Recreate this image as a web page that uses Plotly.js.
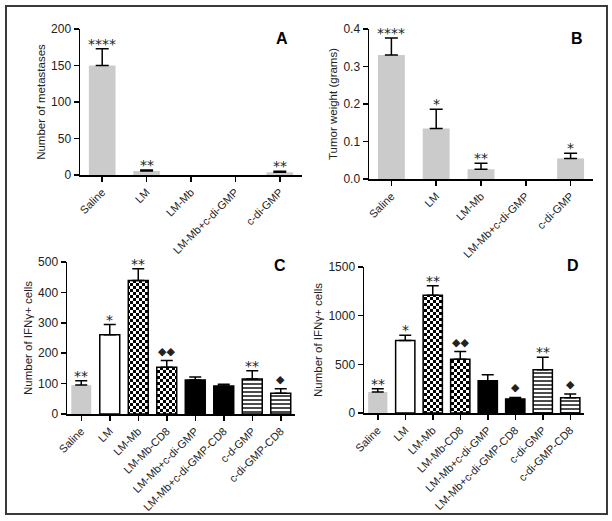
<!DOCTYPE html>
<html>
<head>
<meta charset="utf-8">
<script src="https://cdn.plot.ly/plotly-3.0.1.min.js"></script>
<style>html,body{margin:0;padding:0;background:#fff;}#chart{width:612px;height:521px;}</style>
</head>
<body>
<div id="chart"></div>
<script>
// ---------- data ----------
const catsA = ["Saline", "LM", "LM-Mb", "LM-Mb+c-di-GMP", "c-di-GMP"];
const metastases = [150, 5.5, 0, 0, 3.7];
const metastasesErr = [23, 1.5, 0, 0, 1.3];
const starsA = ["****", "**", "", "", "**"];

const catsB = ["Saline", "LM", "LM-Mb", "LM-Mb+c-di-GMP", "c-di-GMP"];
const tumorWeight = [0.331, 0.135, 0.026, 0, 0.055];
const tumorWeightErr = [0.045, 0.051, 0.016, 0, 0.014];
const starsB = ["****", "*", "**", "", "*"];

const catsC = ["Saline", "LM", "LM-Mb", "LM-Mb-CD8", "LM-Mb+c-di-GMP", "LM-Mb+c-di-GMP-CD8", "c-d-GMP", "c-di-GMP-CD8"];
const ifnC = [95, 261, 439, 154, 112, 92, 115, 68];
const ifnCErr = [14, 33, 39, 22, 10, 6, 27, 15];
const marksC = ["**", "*", "**", "◆◆", "", "", "**", "◆"];

const catsD = ["Saline", "LM", "LM-Mb", "LM-Mb-CD8", "LM-Mb+c-di-GMP", "LM-Mb+c-di-GMP-CD8", "c-di-GMP", "c-di-GMP-CD8"];
const ifnD = [215, 744, 1211, 553, 331, 143, 444, 157];
const ifnDErr = [34, 54, 96, 78, 61, 17, 129, 38];
const marksD = ["**", "*", "**", "◆◆", "", "◆", "**", "◆"];

// ---------- styles ----------
const FONT = "Liberation Sans, Arial, sans-serif";
const GRAY = "#cbcbcb";
const styleAB = ["gray", "gray", "gray", "gray", "gray"];
const styleCD = ["gray", "white", "checker", "checker", "black", "black", "stripes", "stripes"];

function markerFor(style) {
  const line = {color: "#000", width: style === "gray" ? 0 : 1.5};
  if (style === "gray") return {color: GRAY, line};
  if (style === "white") return {color: "#fff", line};
  if (style === "black") return {color: "#000", line};
  if (style === "checker") return {color: "#fff", line,
    pattern: {path: "M0,0H3V3H0ZM3,3H6V6H3Z", size: 6, fgcolor: "#000", bgcolor: "#fff", fillmode: "replace", solidity: 1}};
  if (style === "stripes") return {color: "#fff", line,
    pattern: {shape: "-", size: 4, solidity: 0.35, fgcolor: "#000", bgcolor: "#fff", fillmode: "replace"}};
}

function panelTraces(cats, vals, errs, styles, xa, ya, capW, barW) {
  const groups = {};
  styles.forEach((s, i) => { (groups[s] = groups[s] || []).push(i); });
  return Object.keys(groups).map(s => {
    const idx = groups[s];
    return {
      type: "bar",
      x: idx.map(i => cats[i]),
      y: idx.map(i => vals[i]),
      width: barW,
      xaxis: xa, yaxis: ya,
      marker: markerFor(s),
      error_y: {type: "data", symmetric: false,
        array: idx.map(i => (vals[i] > 0 ? errs[i] : NaN)),
        arrayminus: idx.map(i => (vals[i] > 0 ? 0 : NaN)),
        color: "#000", thickness: 1.5, width: capW},
      hoverinfo: "skip"
    };
  });
}

const traces = [].concat(
  panelTraces(catsA, metastases, metastasesErr, styleAB, "x", "y", 6.5, 0.6),
  panelTraces(catsB, tumorWeight, tumorWeightErr, styleAB, "x2", "y2", 6.5, 0.6),
  panelTraces(catsC, ifnC, ifnCErr, styleCD, "x3", "y3", 6, 0.7),
  panelTraces(catsD, ifnD, ifnDErr, styleCD, "x4", "y4", 6, 0.7)
);

function xAxis(domain, anchor, n) {
  return {domain, anchor, type: "category", range: [-0.5, n - 0.5],
    showline: true, linecolor: "#000", linewidth: 1.5, ticks: "outside", ticklen: 5, tickwidth: 1.5,
    tickcolor: "#000", tickangle: -45, tickfont: {family: FONT, size: 11, color: "#222"},
    showgrid: false, zeroline: false, fixedrange: true};
}
function yAxis(domain, anchor, range, dtick, title, fmt) {
  return {domain, anchor, range, dtick, tickformat: fmt || "",
    showline: true, linecolor: "#000", linewidth: 1.5, ticks: "outside", ticklen: 5, tickwidth: 1.5,
    tickcolor: "#000", tickfont: {family: FONT, size: 12, color: "#222"},
    showgrid: false, zeroline: false, fixedrange: true,
    title: {text: title, font: {family: FONT, size: 11.5, color: "#222"}, standoff: 3}};
}

const annotations = [];
function addMarks(cats, vals, errs, marks, xa, ya) {
  marks.forEach((m, i) => {
    if (!m) return;
    const dia = m.indexOf("◆") >= 0;
    annotations.push({x: cats[i], y: vals[i] + errs[i], xref: xa, yref: ya, text: m, showarrow: false,
      xanchor: "center", yanchor: "bottom", yshift: dia ? 1 : -5,
      font: {family: "DejaVu Sans, sans-serif", size: dia ? 11 : 14, color: "#222"}});
  });
}
addMarks(catsA, metastases, metastasesErr, starsA, "x", "y");
addMarks(catsB, tumorWeight, tumorWeightErr, starsB, "x2", "y2");
addMarks(catsC, ifnC, ifnCErr, marksC, "x3", "y3");
addMarks(catsD, ifnD, ifnDErr, marksD, "x4", "y4");

const panelLetters = ["A", "B", "C", "D"];
const letterPos = [[282, 38], [577, 38], [280, 265], [573, 265]];
panelLetters.forEach((t, i) => {
  annotations.push({x: letterPos[i][0] / 612, y: 1 - letterPos[i][1] / 521, xref: "paper", yref: "paper",
    text: "<b>" + t + "</b>", showarrow: false, xanchor: "center", yanchor: "middle",
    font: {family: FONT, size: 16, color: "#000"}});
});

const layout = {
  width: 612, height: 521, margin: {l: 0, r: 0, t: 0, b: 0},
  paper_bgcolor: "#fff", plot_bgcolor: "#fff", showlegend: false, barmode: "overlay",
  xaxis: xAxis([80 / 612, 302 / 612], "y", 5),
  yaxis: yAxis([1 - 175 / 521, 1 - 29 / 521], "x", [0, 200], 50, "Number of metastases"),
  xaxis2: xAxis([369 / 612, 593 / 612], "y2", 5),
  yaxis2: yAxis([1 - 179 / 521, 1 - 29 / 521], "x2", [0, 0.4], 0.1, "Tumor weight (grams)", ".1f"),
  xaxis3: xAxis([67 / 612, 295 / 612], "y3", 8),
  yaxis3: yAxis([1 - 414 / 521, 1 - 262 / 521], "x3", [0, 500], 100, "Number of IFNγ+ cells"),
  xaxis4: xAxis([364 / 612, 584 / 612], "y4", 8),
  yaxis4: yAxis([1 - 413 / 521, 1 - 267 / 521], "x4", [0, 1500], 500, "Number of IFNγ+ cells"),
  annotations,
  shapes: [{type: "rect", xref: "paper", yref: "paper", x0: 6 / 612, x1: 607 / 612, y0: 1 - 514 / 521, y1: 1 - 6 / 521,
    line: {color: "#3a3a3a", width: 2}, fillcolor: "rgba(0,0,0,0)"}]
};

Plotly.newPlot("chart", traces, layout, {displayModeBar: false, staticPlot: true});
</script>
</body>
</html>
